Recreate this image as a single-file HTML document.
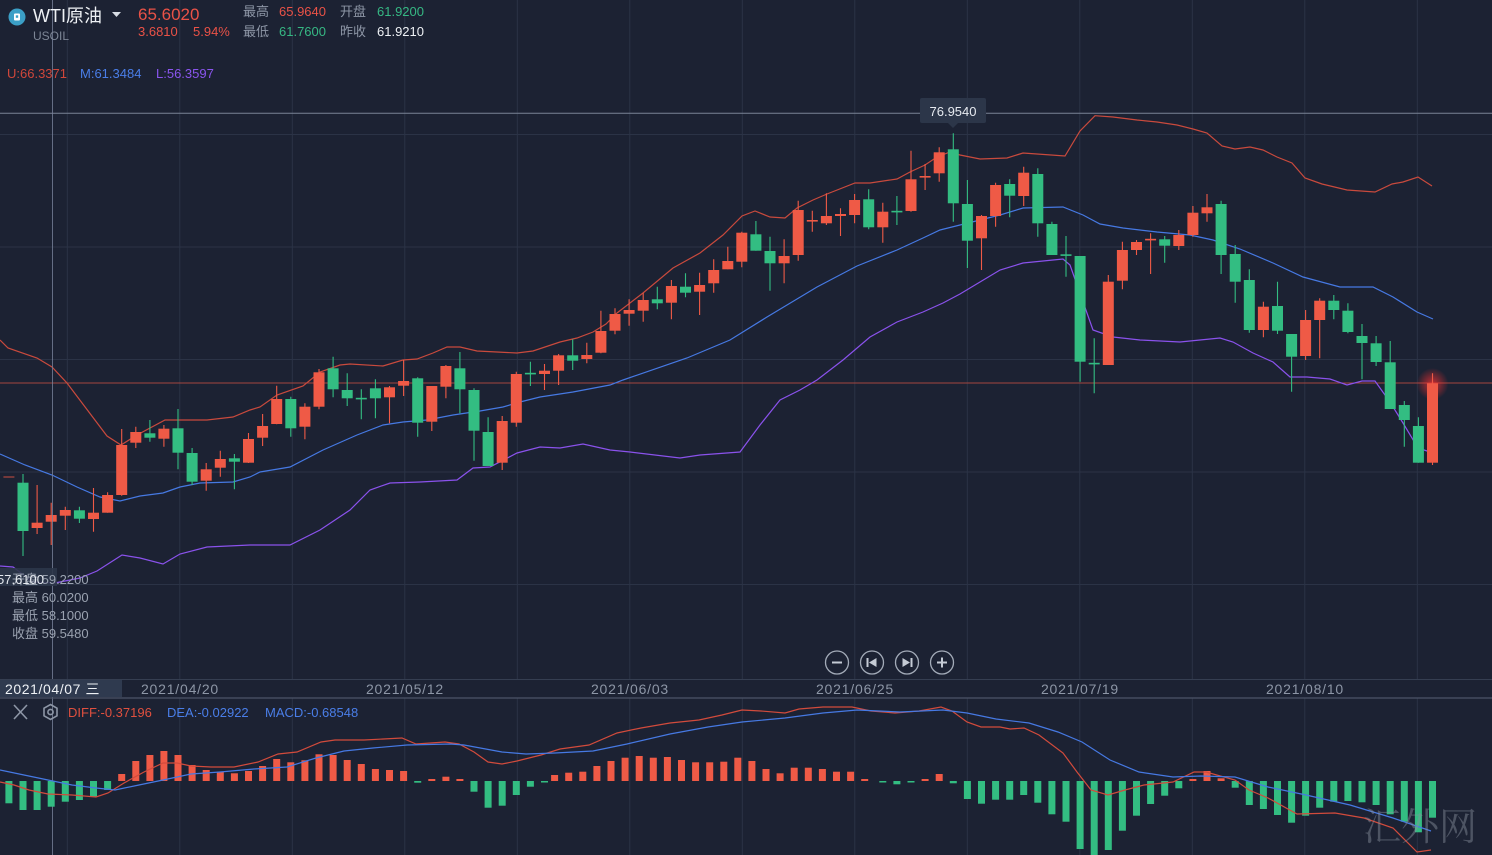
<!DOCTYPE html>
<html><head><meta charset="utf-8">
<style>
html,body{margin:0;padding:0;background:#1c2233;}
body{width:1492px;height:855px;overflow:hidden;}
svg{display:block;font-family:"Liberation Sans","Noto Sans CJK SC",sans-serif;}
.rw{stroke:#ef5a46;stroke-width:1.1;fill:none}
.gw{stroke:#33bd82;stroke-width:1.1;fill:none}
.rb rect{fill:#ef5a46}
.gb rect{fill:#33bd82}
</style></head>
<body>
<svg width="1492" height="855" viewBox="0 0 1492 855" xmlns="http://www.w3.org/2000/svg">
<defs>
<radialGradient id="glow" cx="50%" cy="50%" r="50%">
<stop offset="0" stop-color="#ff3030" stop-opacity="0.75"/>
<stop offset="1" stop-color="#ff3030" stop-opacity="0"/>
</radialGradient>
</defs>
<rect width="1492" height="855" fill="#1c2233"/>

<g stroke="#2b3346" stroke-width="1">
<path d="M67.3 0V679M179.8 0V679M292.3 0V679M404.8 0V679M517.3 0V679M629.8 0V679M742.3 0V679M854.8 0V679M967.3 0V679M1079.8 0V679M1192.3 0V679M1304.8 0V679M1417.3 0V679"/>
<path d="M67.3 698V855M179.8 698V855M292.3 698V855M404.8 698V855M517.3 698V855M629.8 698V855M742.3 698V855M854.8 698V855M967.3 698V855M1079.8 698V855M1192.3 698V855M1304.8 698V855M1417.3 698V855"/>
<path d="M0 134.5H1492M0 247H1492M0 359.5H1492M0 472H1492M0 584.5H1492"/>
</g>
<line x1="0" y1="113.3" x2="1492" y2="113.3" stroke="#7a8396" stroke-width="1"/>
<line x1="0" y1="383" x2="1492" y2="383" stroke="#a4463f" stroke-width="1"/>

<polyline fill="none" stroke="#c94a3d" stroke-width="1.2" points="0,340 8,348 37,358 52,367 67,383 107,436 121,445 137,435 165,420 207,420 233,417 250,410 260,407 277,395 303,386 320,372 340,365 350,364 383,366 403,360 417,359 433,353 447,347 460,347 477,351 497,352 517,353 533,351 560,342 577,338 593,332 606,324 617,313 643,293 673,268 700,253 723,235 742,216 755,211 770,217 785,218 797,208 813,200 827,194 855,183 870,183 897,179 910,172 925,165 937,157 950,152 960,155 980,159 1007,158 1023,153 1065,156 1080,131 1095,115.7 1113,117 1137,120 1157,122 1177,125 1193,129 1207,133 1222,146 1235,149 1250,147 1263,150 1277,157 1292,163 1305,178 1322,184 1347,190 1375,192 1392,184 1403,182 1418,177 1432,186"/>
<polyline fill="none" stroke="#4679e3" stroke-width="1.2" points="0,454 25,465 52,475 77,487 100,497 120,501 140,496 163,493 180,487 200,483 233,482 250,477 260,472 290,467 323,450 357,435 383,425 403,422 427,420 453,415 480,411 503,407 520,402 540,397 573,392 610,385 623,380 687,358 730,340 767,317 817,287 857,266 897,250 923,238 940,230 960,225 1000,215 1023,208 1063,207 1083,215 1100,224 1123,228 1157,232 1190,235 1213,240 1240,249 1273,263 1303,277 1340,287 1373,287 1393,297 1417,312 1433,319"/>
<polyline fill="none" stroke="#8a52ec" stroke-width="1.2" points="0,566 13,567 33,582 55,583 80,578 97,571 122,555 140,558 163,564 180,554 207,547 250,545 290,545 320,530 350,510 370,490 390,483 420,482 457,480 473,468 490,467 517,453 540,447 560,448 583,444 610,450 630,452 680,458 700,455 740,452 760,425 780,400 800,390 817,380 843,360 870,337 897,322 923,312 943,303 960,294 980,282 1000,270 1023,263 1063,259 1070,265 1093,330 1113,337 1140,340 1180,342 1220,338 1233,342 1253,353 1273,362 1290,377 1307,377 1330,379 1347,385 1362,381 1375,381 1390,402 1403,423 1418,448 1433,453"/>

<circle cx="1432.5" cy="384" r="16" fill="url(#glow)"/>

<path class="rw" d="M37.1 485V534M51.2 502.7V545M65.3 506.7V530M93.5 488V531.7M107.6 492.3V512.7M121.7 429V495.7M135.8 426.7V448M163.9 425V446.7M206.2 463V490.7M220.3 450.7V476.7M248.5 433V463M262.6 414V446M276.7 385.7V424.3M304.9 403.3V439.3M319 369V409.3M389.5 386V423.3M403.6 360V396M431.8 386V431M445.9 365V398.3M502.2 416V470M516.3 371.7V426.7M544.5 364V390M558.6 354V385M586.8 342.7V363.3M600.9 310.7V353.3M615 308.3V334.3M629.1 299.3V325.7M643.2 292.7V321.7M671.4 280V319.3M699.6 272.7V315M713.7 259.3V292.7M727.8 246.7V269.3M741.8 231.7V267.3M784.1 239.3V283.3M798.2 200.7V260.7M812.3 210.7V231.7M826.4 193.3V225M840.5 208.3V236M854.6 194V223.3M882.8 202.7V242.7M911 150.7V211.7M925.1 164V190M939.2 147.3V181.7M981.5 215V270M995.6 182.7V226.7M1023.7 166.7V206M1108.3 275V365M1122.4 241.7V289.3M1136.5 240V255M1150.6 233.3V274M1178.8 230V250M1192.9 206V236.7M1207 194V221.7M1263.4 301.7V337.3M1305.6 310V360M1319.7 298.3V358.3M1432.5 373.3V465"/>
<g class="rb">
<rect x="3.4" y="476.3" width="11" height="1.4" opacity="0.6"/>
<rect x="31.6" y="522.7" width="11" height="5.3"/>
<rect x="45.7" y="515" width="11" height="6.7"/>
<rect x="59.8" y="510" width="11" height="5.7"/>
<rect x="88" y="512.7" width="11" height="6.3"/>
<rect x="102.1" y="495" width="11" height="17.7"/>
<rect x="116.2" y="445" width="11" height="50"/>
<rect x="130.3" y="432" width="11" height="10.7"/>
<rect x="158.4" y="428.7" width="11" height="10"/>
<rect x="200.7" y="469.3" width="11" height="11.4"/>
<rect x="214.8" y="459" width="11" height="8.7"/>
<rect x="243" y="439" width="11" height="23.7"/>
<rect x="257.1" y="426" width="11" height="11.7"/>
<rect x="271.2" y="399" width="11" height="25"/>
<rect x="299.4" y="406.7" width="11" height="20"/>
<rect x="313.5" y="372.3" width="11" height="34.4"/>
<rect x="384" y="387.3" width="11" height="10"/>
<rect x="398.1" y="381" width="11" height="4.7"/>
<rect x="426.3" y="386" width="11" height="35.7"/>
<rect x="440.4" y="366" width="11" height="20.7"/>
<rect x="496.7" y="421" width="11" height="41.7"/>
<rect x="510.8" y="374" width="11" height="48.7"/>
<rect x="539" y="370.7" width="11" height="3.3"/>
<rect x="553.1" y="355.3" width="11" height="15.4"/>
<rect x="581.3" y="355" width="11" height="4"/>
<rect x="595.4" y="331" width="11" height="21.7"/>
<rect x="609.5" y="314" width="11" height="16.7"/>
<rect x="623.6" y="310" width="11" height="3.7"/>
<rect x="637.7" y="300" width="11" height="10.7"/>
<rect x="665.9" y="286" width="11" height="16.7"/>
<rect x="694.1" y="285" width="11" height="6.7"/>
<rect x="708.2" y="270" width="11" height="13.3"/>
<rect x="722.3" y="261" width="11" height="8.3"/>
<rect x="736.3" y="232.7" width="11" height="29"/>
<rect x="778.6" y="256" width="11" height="7.3"/>
<rect x="792.7" y="210" width="11" height="45"/>
<rect x="806.8" y="220" width="11" height="1.6"/>
<rect x="820.9" y="216" width="11" height="7.3"/>
<rect x="835" y="214" width="11" height="2"/>
<rect x="849.1" y="200" width="11" height="15"/>
<rect x="877.3" y="211.7" width="11" height="15.6"/>
<rect x="905.5" y="179.3" width="11" height="31.7"/>
<rect x="919.6" y="176" width="11" height="1.6"/>
<rect x="933.7" y="152.3" width="11" height="21"/>
<rect x="976" y="216" width="11" height="22.3"/>
<rect x="990.1" y="185" width="11" height="31"/>
<rect x="1018.2" y="172.7" width="11" height="23.3"/>
<rect x="1102.8" y="281.7" width="11" height="83.3"/>
<rect x="1116.9" y="250" width="11" height="30.7"/>
<rect x="1131" y="242" width="11" height="8"/>
<rect x="1145.1" y="238.8" width="11" height="1.6"/>
<rect x="1173.3" y="235" width="11" height="11"/>
<rect x="1187.4" y="212.7" width="11" height="22.3"/>
<rect x="1201.5" y="207.3" width="11" height="6"/>
<rect x="1257.9" y="306.7" width="11" height="23.3"/>
<rect x="1300.1" y="320" width="11" height="36"/>
<rect x="1314.2" y="300.7" width="11" height="19.3"/>
<rect x="1427" y="383.3" width="11" height="79.4"/>
</g>

<path class="gw" d="M23 474V556M79.4 506.7V523M149.9 420V441.7M178 409V469.3M192.1 448V485M234.4 454V489.3M290.8 396.7V436.7M333.1 356.7V397.3M347.2 373.3V406M361.3 389.3V419.3M375.4 379.3V418.3M417.7 377.3V436.7M459.9 352V413.3M474 388.3V460.7M488.1 417.3V466M530.4 361.7V386M572.7 339.3V370M657.3 286.7V309.3M685.5 273.3V297.3M755.9 221V250.7M770 236.7V290.7M868.7 189.3V229.3M896.9 196V225M953.3 133.3V221.7M967.4 180V268M1009.7 179.3V217.3M1037.8 168.3V236.7M1051.9 221.7V255M1066 236V276.7M1080.1 256V381.7M1094.2 338.3V393.3M1164.7 236V262.7M1221.1 200.7V274M1235.2 245V302.7M1249.3 269.3V332.7M1277.5 281.7V334M1291.6 334V391.7M1333.8 295V319.3M1347.9 303.3V333.3M1362 324V379.3M1376.1 336V366M1390.2 341V409M1404.3 401V446.7M1418.4 417.3V462.7"/>
<g class="gb">
<rect x="17.5" y="482.7" width="11" height="48.3"/>
<rect x="73.9" y="510.3" width="11" height="8.4"/>
<rect x="144.4" y="433.3" width="11" height="4.4"/>
<rect x="172.5" y="428.3" width="11" height="24.4"/>
<rect x="186.6" y="453" width="11" height="28.7"/>
<rect x="228.9" y="458.3" width="11" height="3.4"/>
<rect x="285.3" y="399" width="11" height="29.3"/>
<rect x="327.6" y="368.3" width="11" height="21"/>
<rect x="341.7" y="390" width="11" height="8.3"/>
<rect x="355.8" y="397.8" width="11" height="1.6"/>
<rect x="369.9" y="388.3" width="11" height="10"/>
<rect x="412.2" y="378.3" width="11" height="44.4"/>
<rect x="454.4" y="368.3" width="11" height="21"/>
<rect x="468.5" y="390" width="11" height="40.7"/>
<rect x="482.6" y="432" width="11" height="34"/>
<rect x="524.9" y="372.8" width="11" height="1.6"/>
<rect x="567.2" y="355.3" width="11" height="5.4"/>
<rect x="651.8" y="299.3" width="11" height="4"/>
<rect x="680" y="286.7" width="11" height="6"/>
<rect x="750.4" y="234.3" width="11" height="16.4"/>
<rect x="764.5" y="251" width="11" height="12.3"/>
<rect x="863.2" y="199.3" width="11" height="28"/>
<rect x="891.4" y="210.8" width="11" height="1.6"/>
<rect x="947.8" y="149.3" width="11" height="54"/>
<rect x="961.9" y="204" width="11" height="36.7"/>
<rect x="1004.2" y="184" width="11" height="11.7"/>
<rect x="1032.3" y="174" width="11" height="49.3"/>
<rect x="1046.4" y="224" width="11" height="31"/>
<rect x="1060.5" y="254.3" width="11" height="1.6"/>
<rect x="1074.6" y="256" width="11" height="105.7"/>
<rect x="1088.7" y="362.8" width="11" height="1.6"/>
<rect x="1159.2" y="239.3" width="11" height="6.4"/>
<rect x="1215.6" y="204" width="11" height="51"/>
<rect x="1229.7" y="254" width="11" height="27.7"/>
<rect x="1243.8" y="280" width="11" height="50"/>
<rect x="1272" y="306" width="11" height="24.7"/>
<rect x="1286.1" y="334" width="11" height="22.7"/>
<rect x="1328.3" y="300.7" width="11" height="9.3"/>
<rect x="1342.4" y="310.7" width="11" height="21.3"/>
<rect x="1356.5" y="336" width="11" height="7"/>
<rect x="1370.6" y="343.3" width="11" height="18.7"/>
<rect x="1384.7" y="362.3" width="11" height="46.7"/>
<rect x="1398.8" y="405" width="11" height="15"/>
<rect x="1412.9" y="426" width="11" height="36.7"/>
</g>

<rect x="920" y="98" width="66" height="25" rx="2" fill="#2c3649"/>
<path d="M948 123L953 128L958 123Z" fill="#2c3649"/>
<text x="953" y="116" font-size="13" fill="#e6eaf0" text-anchor="middle">76.9540</text>

<line x1="52.5" y1="0" x2="52.5" y2="855" stroke="#78819a" stroke-width="1" opacity="0.8"/>

<circle cx="17" cy="17" r="8.5" fill="#3b9fc6"/>
<rect x="14" y="13.5" width="6" height="7" rx="1" fill="#ffffff"/>
<rect x="15.8" y="15.3" width="2.4" height="2.5" fill="#3b9fc6"/>
<text x="33" y="22" font-size="18" fill="#eef1f5">WTI原油</text>
<path d="M112 12L121 12L116.5 17Z" fill="#d8dde5"/>
<text x="33" y="40" font-size="12" fill="#7d8696">USOIL</text>
<text x="138" y="20" font-size="17" fill="#ea5247">65.6020</text>
<text x="138" y="36" font-size="13" fill="#ea5247">3.6810</text>
<text x="193" y="36" font-size="13" fill="#ea5247">5.94%</text>
<g font-size="13">
<text x="243" y="16" fill="#8d96a6">最高</text>
<text x="279" y="16" fill="#ea5247">65.9640</text>
<text x="340" y="16" fill="#8d96a6">开盘</text>
<text x="377" y="16" fill="#36b884">61.9200</text>
<text x="243" y="36" fill="#8d96a6">最低</text>
<text x="279" y="36" fill="#36b884">61.7600</text>
<text x="340" y="36" fill="#8d96a6">昨收</text>
<text x="377" y="36" fill="#eef1f5">61.9210</text>
</g>
<g font-size="13">
<text x="7" y="78" fill="#d0473b">U:66.3371</text>
<text x="80" y="78" fill="#4a7ee8">M:61.3484</text>
<text x="156" y="78" fill="#8a55ee">L:56.3597</text>
</g>

<rect x="0" y="568" width="57" height="18" fill="#2c3649" opacity="0.9"/>
<g font-size="13" fill="#9aa2b0">
<text x="12" y="584">开盘 59.2200</text>
<text x="12" y="602">最高 60.0200</text>
<text x="12" y="620">最低 58.1000</text>
<text x="12" y="638">收盘 59.5480</text>
</g>
<text x="-3" y="584" font-size="13" fill="#e6eaf0">57.6100</text>

<g fill="none" stroke="#a3abb8" stroke-width="1.3">
<circle cx="837" cy="662.5" r="11.5"/>
<circle cx="872" cy="662.5" r="11.5"/>
<circle cx="907" cy="662.5" r="11.5"/>
<circle cx="942" cy="662.5" r="11.5"/>
</g>
<g fill="#c5cbd5">
<rect x="832" y="661.5" width="10" height="2"/>
<rect x="866.5" y="658" width="2" height="9"/>
<path d="M876.5 658V667L869 662.5Z"/>
<path d="M902.5 658V667L910 662.5Z"/>
<rect x="910.5" y="658" width="2" height="9"/>
<rect x="937" y="661.5" width="10" height="2"/>
<rect x="941" y="657.5" width="2" height="10"/>
</g>

<line x1="0" y1="679.5" x2="1492" y2="679.5" stroke="#353e51" stroke-width="1"/>
<line x1="0" y1="698" x2="1492" y2="698" stroke="#4b5467" stroke-width="1.2"/>
<rect x="0" y="680" width="122" height="17" fill="#2f3a4f"/>
<text x="5" y="694" font-size="14" letter-spacing="0.6" fill="#eef1f5">2021/04/07 三</text>
<g font-size="14" letter-spacing="0.8" fill="#8d96a6" text-anchor="middle">
<text x="180" y="694">2021/04/20</text>
<text x="405" y="694">2021/05/12</text>
<text x="630" y="694">2021/06/03</text>
<text x="855" y="694">2021/06/25</text>
<text x="1080" y="694">2021/07/19</text>
<text x="1305" y="694">2021/08/10</text>
</g>

<g stroke="#8d96a6" stroke-width="1.6" fill="none">
<path d="M14 705L27 719M27 705L14 719"/>
<path d="M50.5 704.5L57 708.2V715.8L50.5 719.5L44 715.8V708.2Z"/>
<circle cx="50.5" cy="712" r="2.6"/>
</g>
<g font-size="13">
<text x="68" y="717" fill="#e0503f">DIFF:-0.37196</text>
<text x="167" y="717" fill="#4a7ee8">DEA:-0.02922</text>
<text x="265" y="717" fill="#4a7ee8">MACD:-0.68548</text>
</g>

<g fill="#ef5a46">
<rect x="118.2" y="774" width="7" height="7"/>
<rect x="132.3" y="761" width="7" height="20"/>
<rect x="146.4" y="755" width="7" height="26"/>
<rect x="160.4" y="751" width="7" height="30"/>
<rect x="174.5" y="755" width="7" height="26"/>
<rect x="188.6" y="765" width="7" height="16"/>
<rect x="202.7" y="770" width="7" height="11"/>
<rect x="216.8" y="771.7" width="7" height="9.3"/>
<rect x="230.9" y="773.3" width="7" height="7.7"/>
<rect x="245" y="771" width="7" height="10"/>
<rect x="259.1" y="766" width="7" height="15"/>
<rect x="273.2" y="759" width="7" height="22"/>
<rect x="287.3" y="762.3" width="7" height="18.7"/>
<rect x="301.4" y="760.3" width="7" height="20.7"/>
<rect x="315.5" y="754.3" width="7" height="26.7"/>
<rect x="329.6" y="755" width="7" height="26"/>
<rect x="343.7" y="760" width="7" height="21"/>
<rect x="357.8" y="764" width="7" height="17"/>
<rect x="371.9" y="769" width="7" height="12"/>
<rect x="386" y="770" width="7" height="11"/>
<rect x="400.1" y="771" width="7" height="10"/>
<rect x="428.3" y="779" width="7" height="2"/>
<rect x="442.4" y="776.7" width="7" height="4.3"/>
<rect x="456.4" y="779" width="7" height="2"/>
<rect x="551.1" y="775" width="7" height="6"/>
<rect x="565.2" y="772.7" width="7" height="8.3"/>
<rect x="579.3" y="771.7" width="7" height="9.3"/>
<rect x="593.4" y="766" width="7" height="15"/>
<rect x="607.5" y="761" width="7" height="20"/>
<rect x="621.6" y="757.7" width="7" height="23.3"/>
<rect x="635.7" y="756" width="7" height="25"/>
<rect x="649.8" y="757.7" width="7" height="23.3"/>
<rect x="663.9" y="757" width="7" height="24"/>
<rect x="678" y="760" width="7" height="21"/>
<rect x="692.1" y="762.3" width="7" height="18.7"/>
<rect x="706.2" y="762.3" width="7" height="18.7"/>
<rect x="720.3" y="761.7" width="7" height="19.3"/>
<rect x="734.3" y="757.7" width="7" height="23.3"/>
<rect x="748.4" y="761" width="7" height="20"/>
<rect x="762.5" y="769" width="7" height="12"/>
<rect x="776.6" y="773.3" width="7" height="7.7"/>
<rect x="790.7" y="767.7" width="7" height="13.3"/>
<rect x="804.8" y="767.7" width="7" height="13.3"/>
<rect x="818.9" y="769" width="7" height="12"/>
<rect x="833" y="771.7" width="7" height="9.3"/>
<rect x="847.1" y="771.7" width="7" height="9.3"/>
<rect x="861.2" y="779" width="7" height="2"/>
<rect x="921.6" y="779" width="7" height="2"/>
<rect x="935.7" y="774" width="7" height="7"/>
<rect x="1189.4" y="779" width="7" height="2"/>
<rect x="1203.5" y="771" width="7" height="10"/>
<rect x="1217.6" y="778.3" width="7" height="2.7"/>
</g>
<g fill="#33bd82">
<rect x="5.4" y="781" width="7" height="22.3"/>
<rect x="19.5" y="781" width="7" height="29"/>
<rect x="33.6" y="781" width="7" height="29"/>
<rect x="47.7" y="781" width="7" height="25.7"/>
<rect x="61.8" y="781" width="7" height="20.7"/>
<rect x="75.9" y="781" width="7" height="19"/>
<rect x="90" y="781" width="7" height="15.7"/>
<rect x="104.1" y="781" width="7" height="9"/>
<rect x="414.2" y="781" width="7" height="1.7"/>
<rect x="470.5" y="781" width="7" height="10.7"/>
<rect x="484.6" y="781" width="7" height="26.7"/>
<rect x="498.7" y="781" width="7" height="24.7"/>
<rect x="512.8" y="781" width="7" height="14"/>
<rect x="526.9" y="781" width="7" height="5.7"/>
<rect x="541" y="781" width="7" height="1.5"/>
<rect x="879.3" y="781" width="7" height="1.5"/>
<rect x="893.4" y="781" width="7" height="3.3"/>
<rect x="907.5" y="781" width="7" height="1.5"/>
<rect x="949.8" y="781" width="7" height="2.3"/>
<rect x="963.9" y="781" width="7" height="18"/>
<rect x="978" y="781" width="7" height="22.7"/>
<rect x="992.1" y="781" width="7" height="18.7"/>
<rect x="1006.2" y="781" width="7" height="18.7"/>
<rect x="1020.2" y="781" width="7" height="14"/>
<rect x="1034.3" y="781" width="7" height="21.7"/>
<rect x="1048.4" y="781" width="7" height="33.3"/>
<rect x="1062.5" y="781" width="7" height="40.7"/>
<rect x="1076.6" y="781" width="7" height="68"/>
<rect x="1090.7" y="781" width="7" height="74"/>
<rect x="1104.8" y="781" width="7" height="69"/>
<rect x="1118.9" y="781" width="7" height="49.7"/>
<rect x="1133" y="781" width="7" height="34.7"/>
<rect x="1147.1" y="781" width="7" height="23"/>
<rect x="1161.2" y="781" width="7" height="14.7"/>
<rect x="1175.3" y="781" width="7" height="7.3"/>
<rect x="1231.7" y="781" width="7" height="6.7"/>
<rect x="1245.8" y="781" width="7" height="24"/>
<rect x="1259.9" y="781" width="7" height="28"/>
<rect x="1274" y="781" width="7" height="34"/>
<rect x="1288.1" y="781" width="7" height="41.7"/>
<rect x="1302.1" y="781" width="7" height="34.7"/>
<rect x="1316.2" y="781" width="7" height="26.7"/>
<rect x="1330.3" y="781" width="7" height="20.7"/>
<rect x="1344.4" y="781" width="7" height="20"/>
<rect x="1358.5" y="781" width="7" height="21.3"/>
<rect x="1372.6" y="781" width="7" height="24"/>
<rect x="1386.7" y="781" width="7" height="33.3"/>
<rect x="1400.8" y="781" width="7" height="40.7"/>
<rect x="1414.9" y="781" width="7" height="51.3"/>
<rect x="1429" y="781" width="7" height="36.7"/>
</g>

<polyline fill="none" stroke="#d24b3c" stroke-width="1.2" points="0,782 14,785 29,790 48,794 72,795 96,797 108,793 124,783 144,772 163,763 177,763 191,766 211,767 234,767 258,762 278,754 297,752 321,742 335,740 364,740 402,738 416,744 445,742 459,744 474,752 488,762 502,764 517,761 541,755 560,749 589,745 617,733 641,728 670,723 699,720 722,715 742,710 761,711 785,713 799,709 823,707 852,707 871,711 895,713 919,711 941,707 952,711 967,722 981,727 1000,727 1010,729 1024,728 1039,735 1063,753 1077,772 1091,790 1108,795 1125,790 1144,785 1173,782 1194,772 1206,772 1235,780 1249,790 1268,798 1297,814 1335,813 1364,818 1393,828 1417,852 1431,850"/>
<polyline fill="none" stroke="#4679e3" stroke-width="1.2" points="0,770 24,775 48,780 72,785 96,788 115,790 139,785 163,780 191,774 220,772 254,769 287,767 316,758 344,751 373,748 407,745 450,744 464,745 502,752 526,754 555,753 593,751 627,744 670,734 708,727 742,722 785,718 823,713 857,710 900,712 943,710 967,713 996,719 1029,723 1058,732 1082,742 1110,760 1139,772 1173,777 1201,776 1235,777 1268,787 1306,795 1350,805 1393,818 1431,831"/>

<text x="1363" y="840" font-size="38" fill="#8a919e" opacity="0.45" font-family="'Noto Serif CJK SC','Liberation Serif',serif">汇外网</text>
</svg>
</body></html>
